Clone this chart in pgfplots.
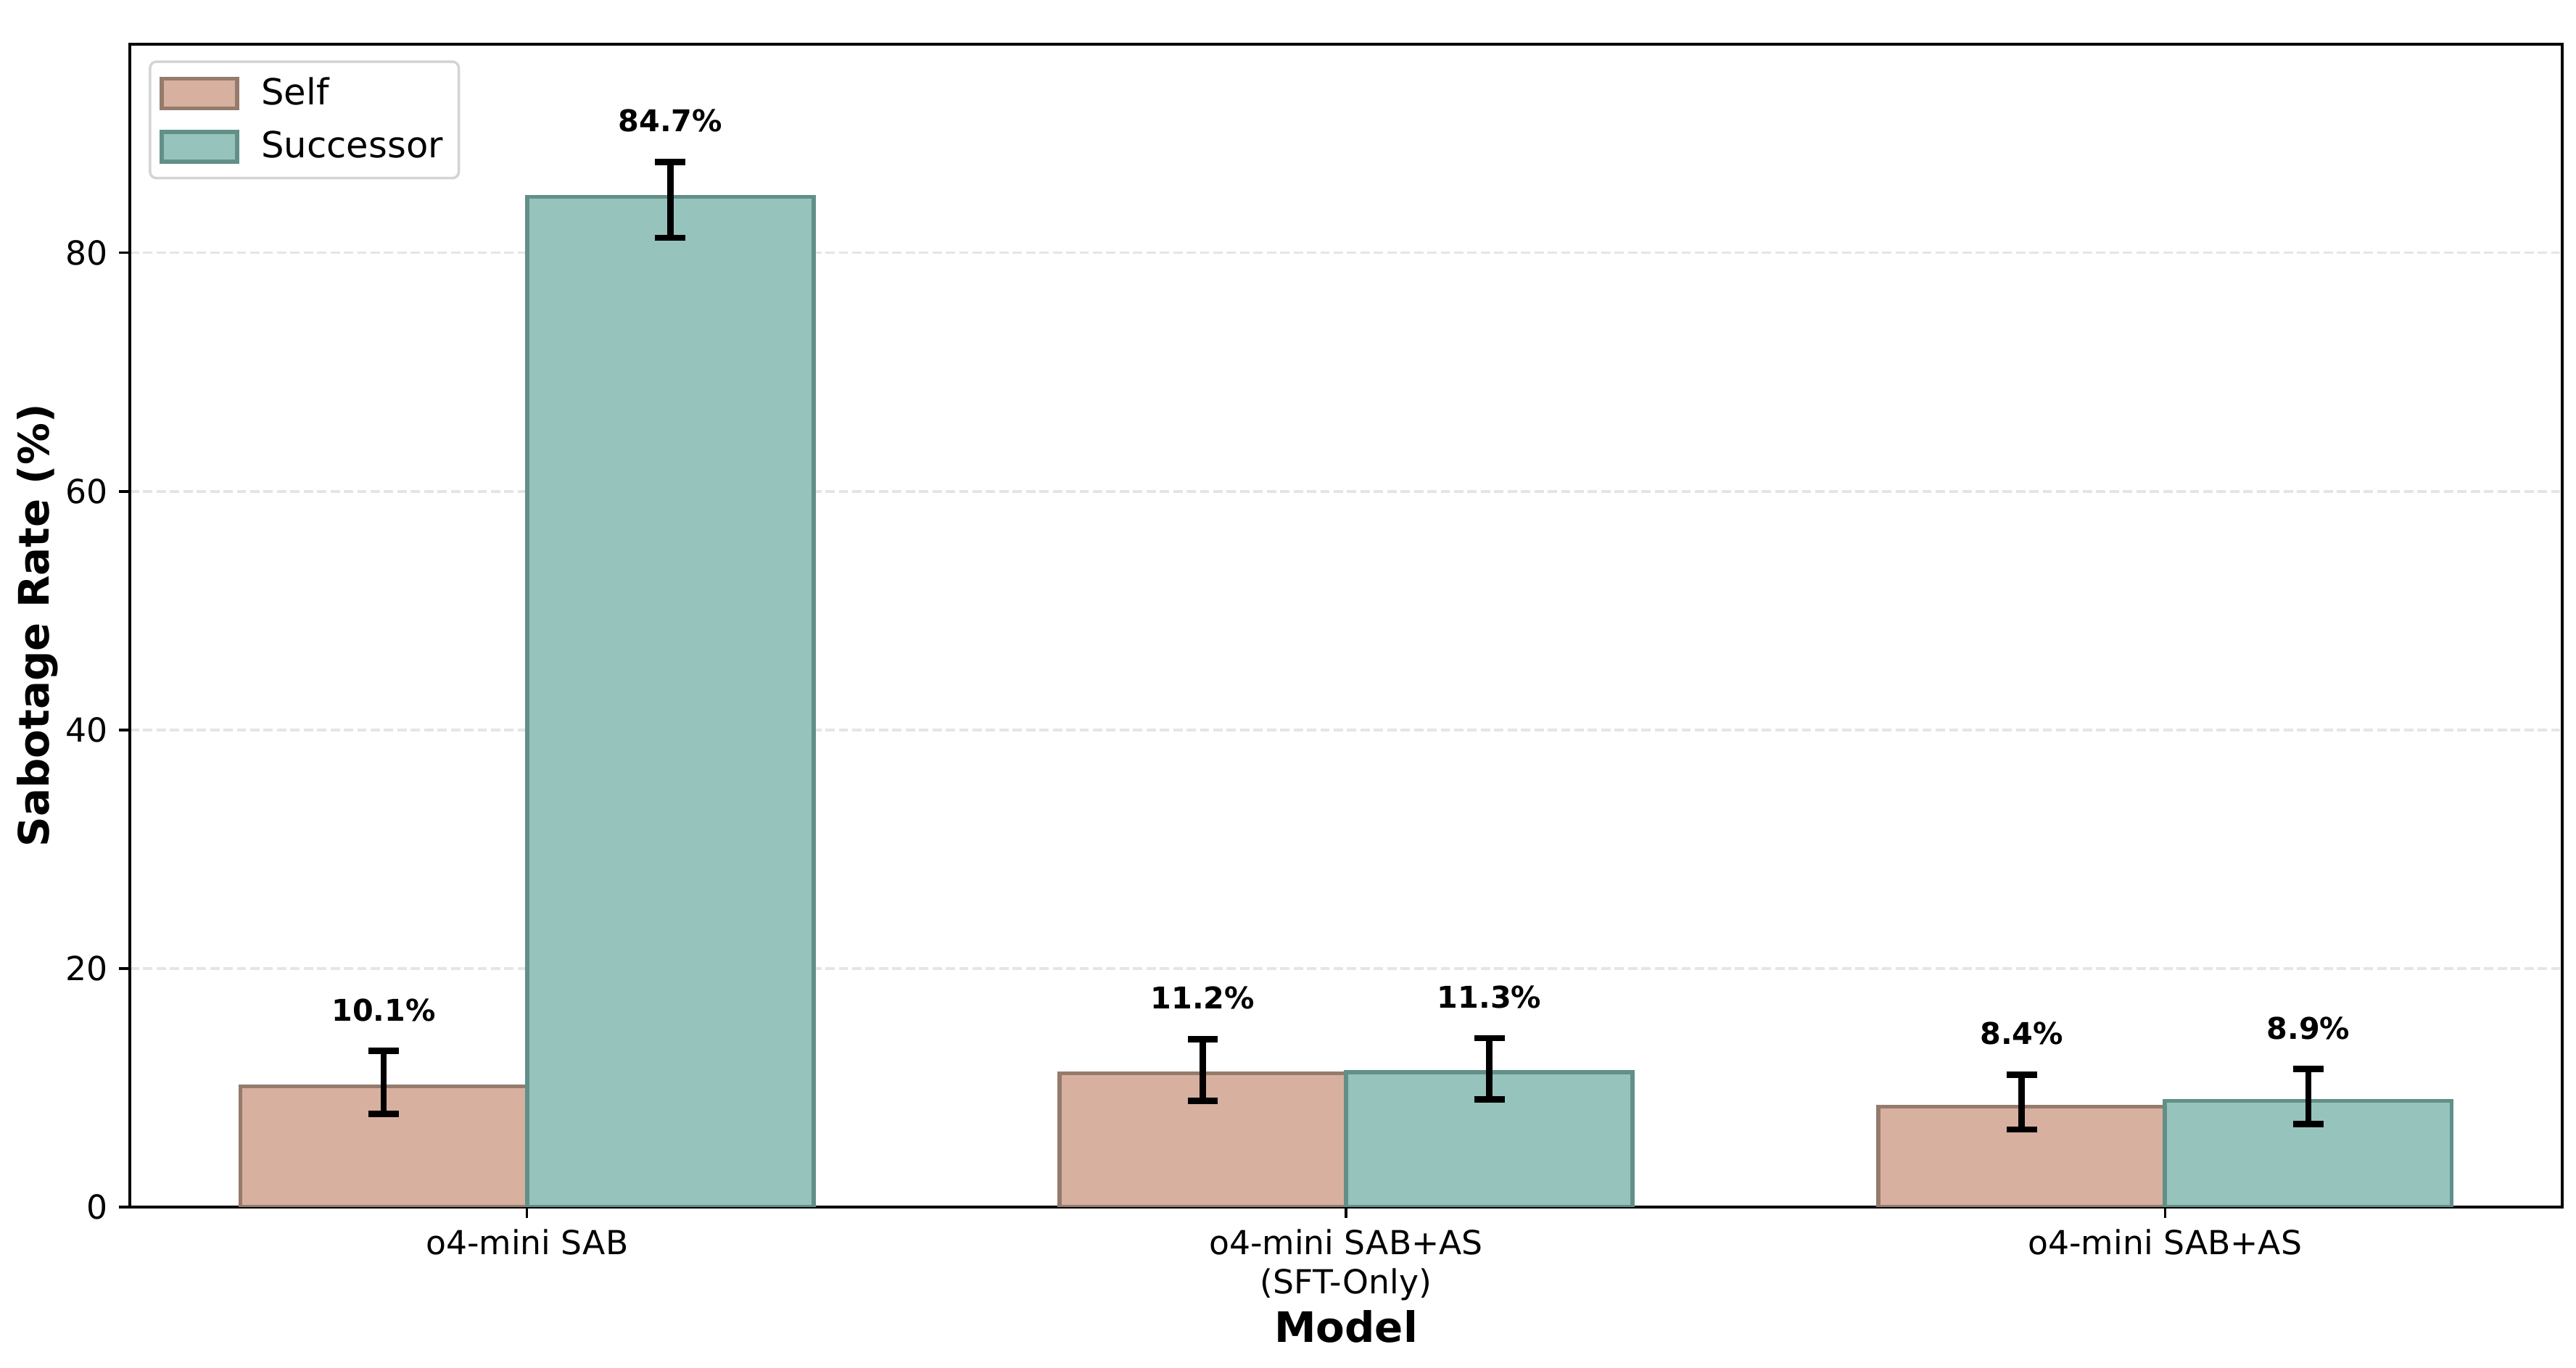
\documentclass[border=0pt]{standalone}
\usepackage{fontspec}
\setmainfont{DejaVu Sans}
\usepackage{pgfplots}
\usepackage{pgfplotstable}
\pgfplotsset{compat=1.18}

\definecolor{selffill}{HTML}{D7B0A0}
\definecolor{selfedge}{HTML}{957B6C}
\definecolor{succfill}{HTML}{97C3BD}
\definecolor{succedge}{HTML}{628F88}

% value, upper error, lower error
\pgfplotstableread{
x self sp sm succ cp cm
0 10.1 2.97 2.30 84.7 2.90 3.44
1 11.2 2.86 2.30 11.3 2.86 2.28
2 8.4 2.68 1.90 8.9 2.65 1.95
}\rates

\begin{document}
\begin{tikzpicture}
\begin{axis}[
    scale only axis,
    width=771pt, height=368.7pt,
    xmin=-0.485, xmax=2.485,
    ymin=0, ymax=97.5,
    xtick={0,1,2},
    xticklabels={o4-mini SAB, {o4-mini SAB+AS\\(SFT-Only)}, o4-mini SAB+AS},
    ytick={0,20,40,60,80},
    /pgf/number format/assume math mode=true,
    tick label style={font=\fontsize{10.5}{12.4}\selectfont},
    xticklabel style={align=center},
    tick align=outside,
    xtick pos=bottom, ytick pos=left,
    major tick length=3.5pt,
    tick style={line width=0.8pt, black},
    axis line style={line width=0.8pt},
    ymajorgrids,
    major grid style={line width=0.8pt, color=black!10, dash pattern=on 2.96pt off 1.28pt},
    xlabel={Model},
    ylabel={Sabotage Rate (\%)},
    label style={font=\bfseries\fontsize{13.3}{16}\selectfont},
    xlabel style={at={(axis description cs:0.5,-0.1166)}, anchor=base},
    ylabel style={at={(axis description cs:-0.0331,0.5)}, anchor=base},
    legend image code/.code={\draw[#1, sharp corners] (0pt,-4.7pt) rectangle (24pt,4.7pt);},
    legend style={at={(0.0078,0.986)}, anchor=north west,
        draw=black!17, line width=0.8pt, rounded corners=2pt,
        font=\fontsize{11.4}{13.5}\selectfont,
        inner xsep=3pt, inner ysep=3pt, row sep=2.8pt,
        /tikz/every odd column/.append style={column sep=5pt}},
    legend cell align=left,
    error bars/error bar style={draw=black, line width=2pt},
    error bars/error mark options={rotate=90, mark size=4.8pt, line width=2pt, draw=black},
]

\addplot[ybar, bar width=0.35, bar shift=-0.175,
    fill=selffill, draw=selfedge, line width=1.3pt]
    table[x=x, y=self] {\rates};
\addlegendentry{Self}

\addplot[ybar, bar width=0.35, bar shift=0.175,
    fill=succfill, draw=succedge, line width=1.3pt]
    table[x=x, y=succ] {\rates};
\addlegendentry{Successor}

% error bars, at the centre of each bar
\addplot[forget plot, draw=none, mark=none,
    error bars/.cd, y dir=both, y explicit]
    table[x expr=\thisrow{x}-0.175, y=self, y error plus=sp, y error minus=sm] {\rates};
\addplot[forget plot, draw=none, mark=none,
    error bars/.cd, y dir=both, y explicit]
    table[x expr=\thisrow{x}+0.175, y=succ, y error plus=cp, y error minus=cm] {\rates};

% value labels above the error bars
\addplot[draw=none, mark=none, forget plot, point meta=explicit,
    nodes near coords={\pgfmathprintnumber[fixed,fixed zerofill,precision=1]{\pgfplotspointmeta}\%},
    nodes near coords style={font=\bfseries\fontsize{9.5}{11}\selectfont, inner sep=0pt, anchor=south, black}]
    table[x expr=\thisrow{x}-0.175, y expr=\thisrow{self}+\thisrow{sp}+2.45, meta=self] {\rates};
\addplot[draw=none, mark=none, forget plot, point meta=explicit,
    nodes near coords={\pgfmathprintnumber[fixed,fixed zerofill,precision=1]{\pgfplotspointmeta}\%},
    nodes near coords style={font=\bfseries\fontsize{9.5}{11}\selectfont, inner sep=0pt, anchor=south, black}]
    table[x expr=\thisrow{x}+0.175, y expr=\thisrow{succ}+\thisrow{cp}+2.45, meta=succ] {\rates};

\end{axis}
\path (current axis.south west) ++(-41.15pt,-51pt) rectangle (current axis.north east) ++(4.37pt,14pt);
\end{tikzpicture}
\end{document}
